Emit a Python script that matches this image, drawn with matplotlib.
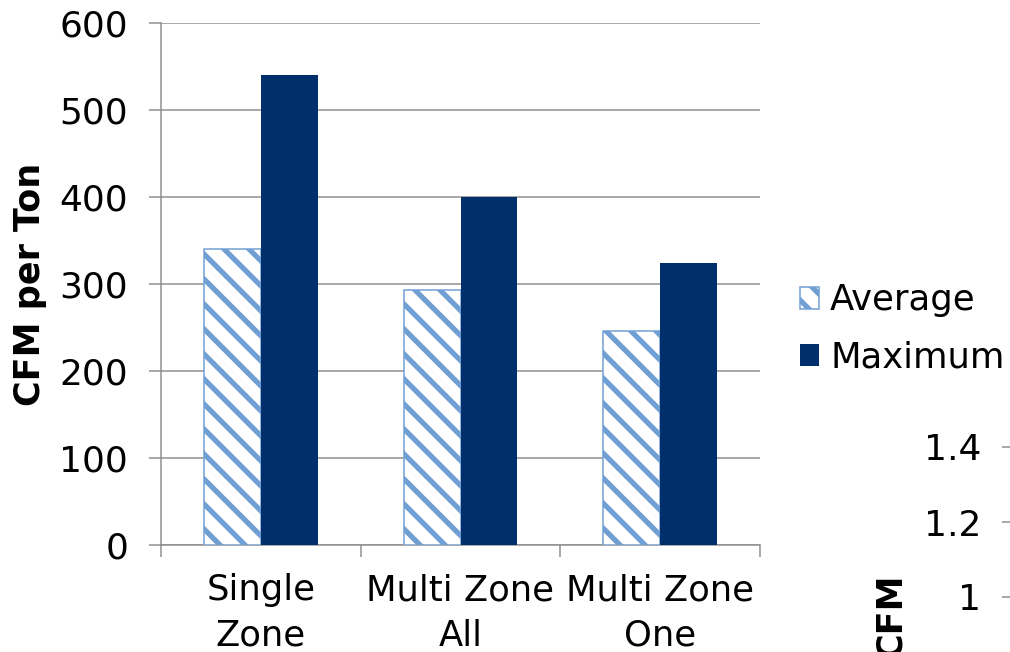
import matplotlib
matplotlib.use("Agg")
import matplotlib.pyplot as plt
import numpy as np

categories = ["Single\nZone", "Multi Zone\nAll", "Multi Zone\nOne"]
average = [340, 293, 246]
maximum = [540, 400, 324]
y_ticks = [0, 100, 200, 300, 400, 500, 600]
ylabel = "CFM per Ton"
legend_labels = ["Average", "Maximum"]
right_ticks = [1.0, 1.2, 1.4]
right_tick_labels = ["1", "1.2", "1.4"]
right_label = "CFM"

DPI = 150
W, H = 1010, 652
plt.rcParams['font.family'] = ['DejaVu Sans']
plt.rcParams['hatch.linewidth'] = 2.5
fig = plt.figure(figsize=(W / DPI, H / DPI), dpi=DPI)

grid_c = '#8E8E8E'
light = '#6F9FD3'
dark = '#002F6C'
fs = 17.3
px = 72.0 / DPI  # points per pixel

ax = fig.add_axes([161 / W, (H - 545) / H, (760 - 161) / W, (545 - 23) / H])
x = np.arange(len(categories))
bw = 0.285
b1 = ax.bar(x - bw / 2, average, bw, facecolor='white', edgecolor=light,
            hatch='\\\\', linewidth=1.5 * px, label=legend_labels[0], zorder=3)
b2 = ax.bar(x + bw / 2, maximum, bw, color=dark, label=legend_labels[1], zorder=3,
            linewidth=0)

ax.set_xlim(-0.5, len(categories) - 0.5)
ax.set_ylim(0, 600)
ax.set_yticks(y_ticks)
ax.set_yticklabels([str(v) for v in y_ticks])
ax.yaxis.grid(True, color=grid_c, linewidth=1.5 * px, zorder=0)
ax.set_axisbelow(True)
ax.set_xticks(np.arange(-0.5, len(categories)))
ax.set_xticklabels([''] * (len(categories) + 1))
ax.set_xticks(x, minor=True)
ax.set_xticklabels(categories, minor=True, fontsize=17, linespacing=1.43)
ax.tick_params(axis='x', which='minor', length=0, pad=13.5)
ax.tick_params(axis='x', which='major', length=12 * px, width=1.5 * px, color=grid_c)
ax.tick_params(axis='y', length=12 * px, width=1.5 * px, color=grid_c, pad=21 * px, labelsize=fs)
for s in ['top', 'right']:
    ax.spines[s].set_visible(False)
for s in ['left', 'bottom']:
    ax.spines[s].set_color(grid_c)
    ax.spines[s].set_linewidth(1.5 * px)
ax.set_ylabel(ylabel, fontsize=16.8, fontweight='bold')
ax.yaxis.set_label_coords((47 - 161) / (760 - 161), 0.5)

fig.legend(handles=[b1, b2], labels=legend_labels, loc='center left',
           bbox_to_anchor=(800 / W, (H - 329) / H), frameon=False, fontsize=17,
           handlelength=0.55, handleheight=0.55, handletextpad=0.3,
           labelspacing=0.65, borderpad=0, borderaxespad=0)

# second chart, partly visible at right edge
ax2 = fig.add_axes([1014 / W, (H - 972) / H, 0.3, (972 - 447) / H])
ax2.set_ylim(0, 1.4)
ax2.set_yticks(right_ticks)
ax2.set_yticklabels(right_tick_labels)
ax2.set_xticks([])
ax2.tick_params(axis='y', length=12 * px, width=1.5 * px, color=grid_c, pad=21 * px, labelsize=fs)
for s in ['top', 'right', 'bottom']:
    ax2.spines[s].set_visible(False)
ax2.spines['left'].set_color(grid_c)
ax2.spines['left'].set_linewidth(1.5 * px)
ax2.patch.set_alpha(0)
fig.text(891 / W, (H - 573) / H, right_label, rotation=90, ha='center', va='top',
         fontsize=16.8, fontweight='bold')

fig.savefig('out.png', dpi=DPI)
